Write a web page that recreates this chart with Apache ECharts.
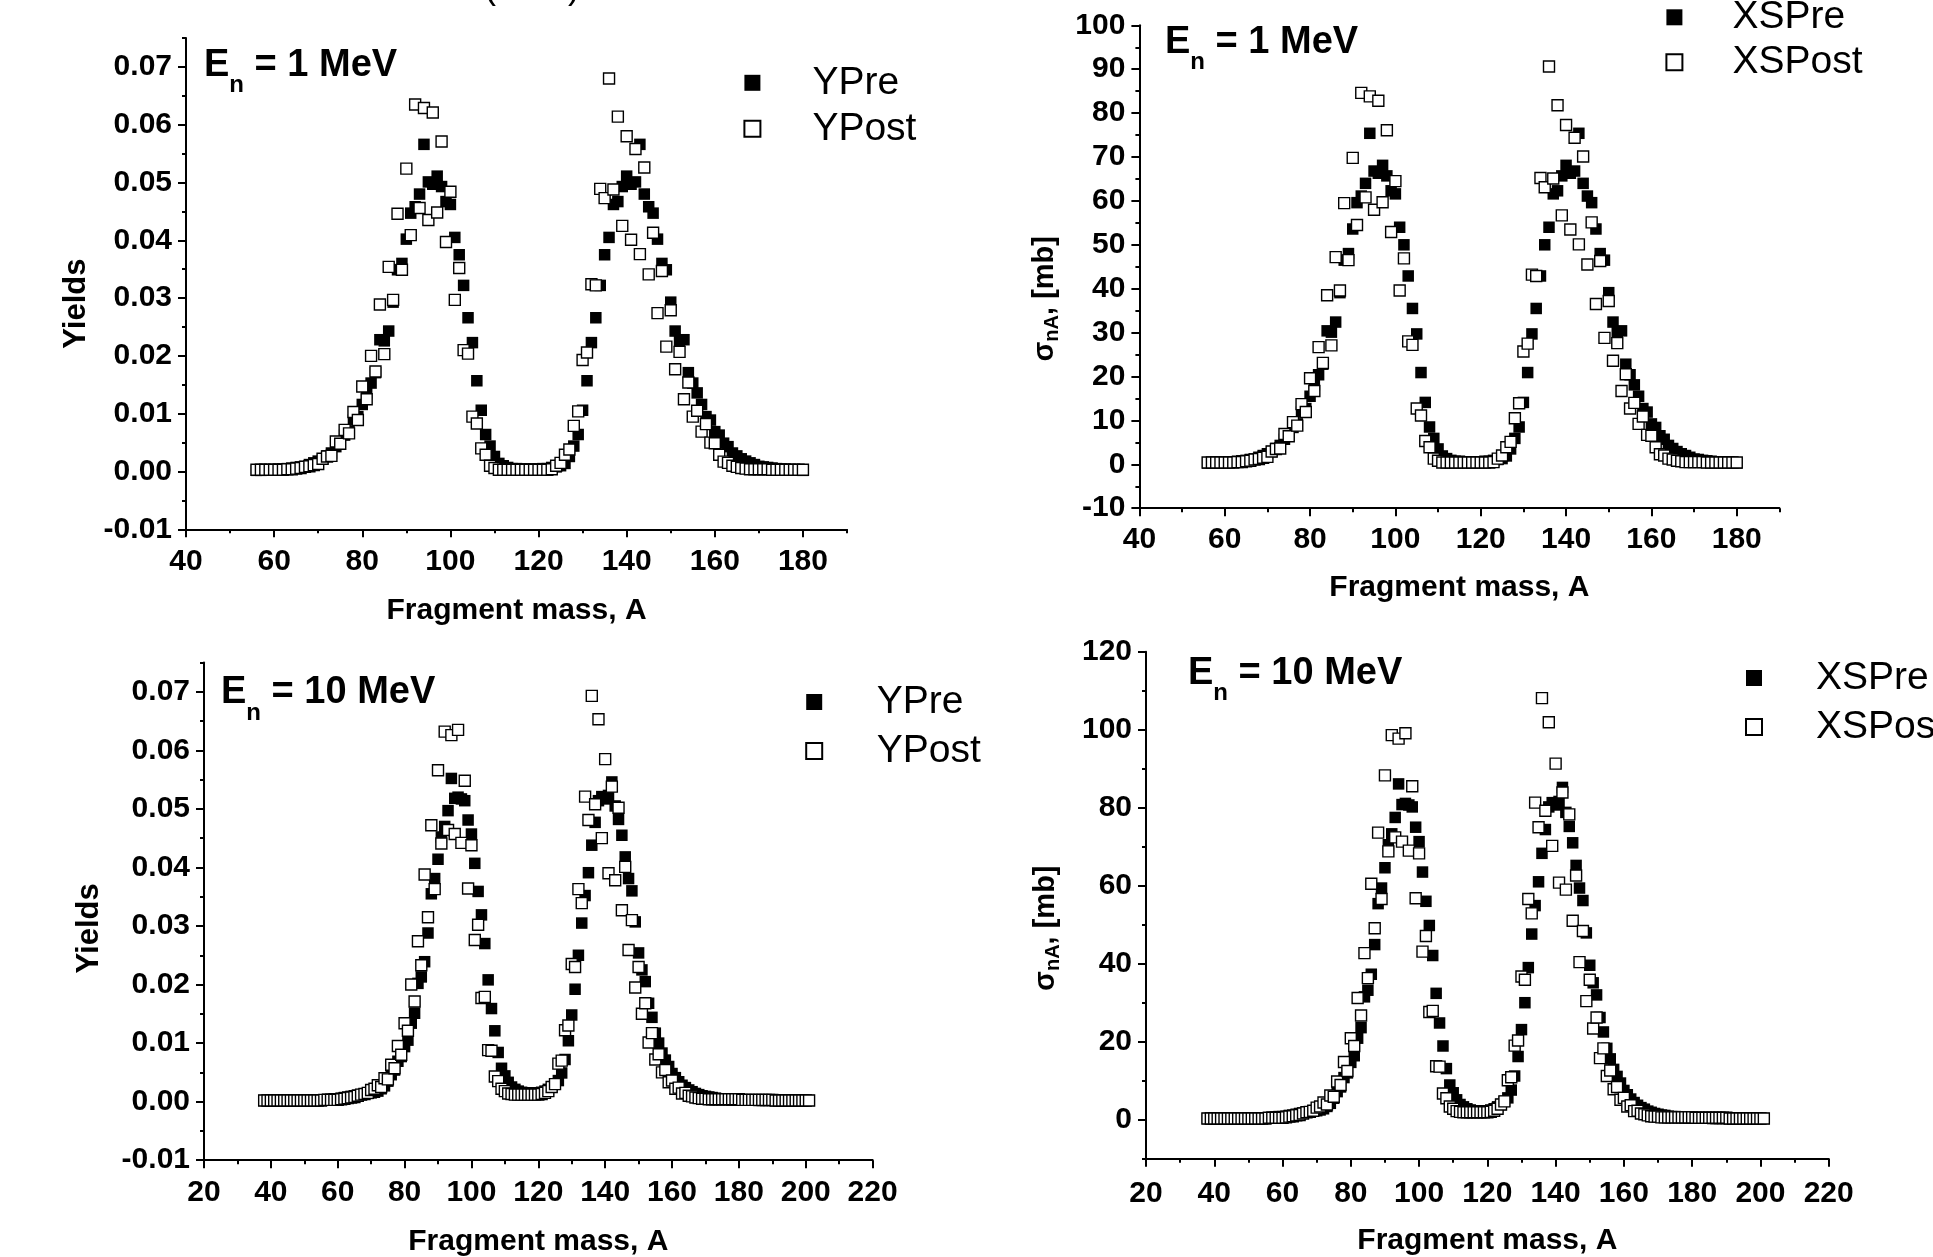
<!DOCTYPE html>
<html><head><meta charset="utf-8">
<script src="https://cdn.jsdelivr.net/npm/echarts@6/dist/echarts.min.js"></script>
<style>html,body{margin:0;padding:0;background:#fff}#c{width:1933px;height:1257px}</style>
</head><body><div id="c"></div>
<script>
// ---------- data ----------
const massStart1MeV = 56;   // A = 56 .. 180
const massStart10MeV = 38;  // A = 38 .. 201

const yPre1 = [
0.0002,0.0002,0.0003,0.0003,0.0003,0.0004,0.0004,0.0005,0.0006,0.0007,
0.0008,0.0009,0.0012,0.0015,0.0018,0.0022,0.0027,0.0032,0.0043,0.0049,
0.0063,0.0069,0.0089,0.0095,0.0116,0.0136,0.0153,0.0171,0.0228,0.0226,
0.0243,0.0293,0.0349,0.0360,0.0402,0.0447,0.0458,0.0480,0.0566,0.0501,
0.0497,0.0511,0.0493,0.0467,0.0462,0.0405,0.0375,0.0322,0.0266,0.0223,
0.0157,0.0106,0.0064,0.0044,0.0026,0.0014,0.0010,0.0007,0.0005,0.0005,
0.0004,0.0004,0.0004,0.0004,0.0004,0.0005,0.0005,0.0007,0.0008,0.0010,
0.0014,0.0026,0.0044,0.0064,0.0106,0.0157,0.0223,0.0266,0.0322,0.0375,
0.0405,0.0462,0.0467,0.0493,0.0511,0.0497,0.0501,0.0566,0.0480,0.0458,
0.0447,0.0402,0.0360,0.0349,0.0293,0.0243,0.0226,0.0228,0.0171,0.0153,
0.0136,0.0116,0.0095,0.0089,0.0069,0.0063,0.0049,0.0043,0.0032,0.0027,
0.0022,0.0018,0.0015,0.0012,0.0009,0.0008,0.0007,0.0006,0.0005,0.0004,
0.0004,0.0003,0.0003,0.0003,0.0002];
const yPost1 = [
0.0003,0.0003,0.0003,0.0003,0.0003,0.0003,0.0003,0.0004,0.0004,0.0005,
0.0006,0.0008,0.0009,0.0011,0.0013,0.0022,0.0026,0.0027,0.0052,0.0048,
0.0072,0.0066,0.0103,0.0089,0.0147,0.0125,0.0200,0.0173,0.0289,0.0203,
0.0354,0.0297,0.0446,0.0349,0.0524,0.0409,0.0635,0.0456,0.0629,0.0435,
0.0621,0.0448,0.0571,0.0397,0.0484,0.0297,0.0352,0.0210,0.0204,0.0095,
0.0083,0.0040,0.0029,0.0010,0.0006,0.0003,0.0003,0.0003,0.0003,0.0003,
0.0003,0.0003,0.0003,0.0003,0.0003,0.0003,0.0003,0.0004,0.0010,0.0015,
0.0029,0.0038,0.0079,0.0104,0.0193,0.0206,0.0324,0.0322,0.0489,0.0473,
0.0680,0.0488,0.0614,0.0425,0.0580,0.0401,0.0558,0.0376,0.0526,0.0341,
0.0413,0.0274,0.0347,0.0216,0.0279,0.0177,0.0207,0.0125,0.0154,0.0095,
0.0105,0.0069,0.0082,0.0050,0.0049,0.0029,0.0017,0.0015,0.0010,0.0008,
0.0006,0.0005,0.0004,0.0004,0.0004,0.0004,0.0004,0.0003,0.0003,0.0003,
0.0003,0.0003,0.0003,0.0003,0.0003];
const xsPre1 = [
0.3,0.3,0.4,0.4,0.4,0.5,0.5,0.7,0.8,0.9,
1.1,1.2,1.6,2.0,2.4,2.9,3.6,4.3,5.7,6.5,
8.4,9.2,11.9,12.7,15.5,18.1,20.4,22.8,30.4,30.1,
32.4,39.1,46.5,48.0,53.6,59.6,61.1,64.0,75.4,66.8,
66.3,68.1,65.7,62.3,61.6,54.0,50.0,42.9,35.5,29.7,
20.9,14.1,8.5,5.9,3.5,1.9,1.3,0.9,0.7,0.7,
0.5,0.5,0.5,0.5,0.5,0.7,0.7,0.9,1.1,1.3,
1.9,3.5,5.9,8.5,14.1,20.9,29.7,35.5,42.9,50.0,
54.0,61.6,62.3,65.7,68.1,66.3,66.8,75.4,64.0,61.1,
59.6,53.6,48.0,46.5,39.1,32.4,30.1,30.4,22.8,20.4,
18.1,15.5,12.7,11.9,9.2,8.4,6.5,5.7,4.3,3.6,
2.9,2.4,2.0,1.6,1.2,1.1,0.9,0.8,0.7,0.5,
0.5,0.4,0.4,0.4,0.3];
const xsPost1 = [
0.4,0.4,0.4,0.4,0.4,0.4,0.4,0.5,0.5,0.7,
0.8,1.1,1.2,1.5,1.7,2.9,3.5,3.6,6.9,6.4,
9.6,8.8,13.7,11.9,19.6,16.7,26.7,23.1,38.5,27.1,
47.2,39.6,59.5,46.5,69.8,54.5,84.6,60.8,83.8,58.0,
82.8,59.7,76.1,52.9,64.5,39.6,46.9,28.0,27.2,12.7,
11.1,5.3,3.9,1.3,0.8,0.4,0.4,0.4,0.4,0.4,
0.4,0.4,0.4,0.4,0.4,0.4,0.4,0.5,1.3,2.0,
3.9,5.1,10.5,13.9,25.7,27.5,43.2,42.9,65.2,63.1,
90.6,65.1,81.8,56.7,77.3,53.5,74.4,50.1,70.1,45.5,
55.1,36.5,46.3,28.8,37.2,23.6,27.6,16.7,20.5,12.7,
14.0,9.2,10.9,6.7,6.5,3.9,2.3,2.0,1.3,1.1,
0.8,0.7,0.5,0.5,0.5,0.5,0.5,0.4,0.4,0.4,
0.4,0.4,0.4,0.4,0.4];

const yPre10 = [
0.0002,0.0002,0.0002,0.0002,0.0002,0.0002,0.0002,0.0002,0.0002,0.0002,
0.0002,0.0002,0.0002,0.0003,0.0003,0.0003,0.0003,0.0003,0.0003,0.0004,
0.0004,0.0005,0.0005,0.0006,0.0007,0.0008,0.0009,0.0010,0.0011,0.0012,
0.0013,0.0014,0.0015,0.0016,0.0018,0.0022,0.0027,0.0035,0.0046,0.0054,
0.0069,0.0077,0.0094,0.0105,0.0134,0.0151,0.0202,0.0213,0.0239,0.0288,
0.0355,0.0381,0.0414,0.0452,0.0470,0.0497,0.0552,0.0518,0.0520,0.0517,
0.0514,0.0481,0.0457,0.0407,0.0359,0.0319,0.0270,0.0208,0.0159,0.0121,
0.0084,0.0057,0.0044,0.0033,0.0025,0.0021,0.0018,0.0016,0.0015,0.0015,
0.0015,0.0015,0.0015,0.0016,0.0018,0.0021,0.0025,0.0030,0.0036,0.0049,
0.0072,0.0104,0.0148,0.0192,0.0250,0.0305,0.0352,0.0391,0.0438,0.0477,
0.0514,0.0521,0.0517,0.0523,0.0546,0.0505,0.0482,0.0455,0.0418,0.0381,
0.0360,0.0307,0.0254,0.0225,0.0205,0.0168,0.0144,0.0117,0.0100,0.0083,
0.0071,0.0060,0.0048,0.0041,0.0034,0.0028,0.0024,0.0020,0.0017,0.0014,
0.0012,0.0010,0.0009,0.0008,0.0007,0.0006,0.0005,0.0005,0.0004,0.0004,
0.0003,0.0003,0.0003,0.0003,0.0003,0.0003,0.0003,0.0003,0.0002,0.0002,
0.0002,0.0002,0.0002,0.0002,0.0002,0.0002,0.0002,0.0002,0.0002,0.0002,
0.0002,0.0002,0.0002,0.0002];
const yPost10 = [
0.0002,0.0002,0.0002,0.0002,0.0002,0.0002,0.0002,0.0002,0.0002,0.0002,
0.0002,0.0002,0.0002,0.0002,0.0002,0.0002,0.0002,0.0002,0.0003,0.0003,
0.0003,0.0003,0.0003,0.0004,0.0005,0.0006,0.0007,0.0008,0.0010,0.0012,
0.0013,0.0015,0.0020,0.0022,0.0028,0.0025,0.0040,0.0038,0.0063,0.0057,
0.0095,0.0080,0.0134,0.0121,0.0200,0.0171,0.0274,0.0233,0.0388,0.0315,
0.0472,0.0363,0.0566,0.0441,0.0632,0.0464,0.0626,0.0457,0.0635,0.0442,
0.0548,0.0364,0.0438,0.0276,0.0302,0.0177,0.0179,0.0088,0.0087,0.0043,
0.0035,0.0022,0.0018,0.0014,0.0013,0.0012,0.0012,0.0012,0.0012,0.0012,
0.0012,0.0012,0.0012,0.0013,0.0015,0.0018,0.0025,0.0030,0.0065,0.0070,
0.0122,0.0130,0.0235,0.0230,0.0363,0.0339,0.0521,0.0481,0.0693,0.0508,
0.0653,0.0450,0.0585,0.0390,0.0538,0.0378,0.0502,0.0327,0.0401,0.0259,
0.0310,0.0195,0.0230,0.0150,0.0168,0.0101,0.0117,0.0072,0.0081,0.0050,
0.0054,0.0033,0.0036,0.0022,0.0024,0.0014,0.0015,0.0010,0.0009,0.0007,
0.0006,0.0005,0.0005,0.0004,0.0004,0.0004,0.0004,0.0004,0.0004,0.0004,
0.0004,0.0004,0.0004,0.0003,0.0003,0.0003,0.0003,0.0003,0.0003,0.0003,
0.0003,0.0003,0.0003,0.0002,0.0002,0.0002,0.0002,0.0002,0.0002,0.0002,
0.0002,0.0002,0.0002,0.0002];
const xsPre10 = [
0.3,0.3,0.3,0.3,0.3,0.3,0.3,0.3,0.3,0.3,
0.3,0.3,0.3,0.5,0.5,0.5,0.5,0.5,0.5,0.6,
0.6,0.8,0.8,0.9,1.1,1.2,1.4,1.6,1.7,1.9,
2.0,2.2,2.3,2.5,2.8,3.4,4.2,5.5,7.2,8.4,
10.8,12.0,14.7,16.4,20.9,23.6,31.5,33.2,37.3,44.9,
55.4,59.4,64.6,70.5,73.3,77.5,86.1,80.8,81.1,80.7,
80.2,75.0,71.3,63.5,56.0,49.8,42.1,32.4,24.8,18.9,
13.1,8.9,6.9,5.1,3.9,3.3,2.8,2.5,2.3,2.3,
2.3,2.3,2.3,2.5,2.8,3.3,3.9,4.7,5.6,7.6,
11.2,16.2,23.1,30.0,39.0,47.6,54.9,61.0,68.3,74.4,
80.2,81.3,80.7,81.6,85.2,78.8,75.2,71.0,65.2,59.4,
56.2,47.9,39.6,35.1,32.0,26.2,22.5,18.3,15.6,12.9,
11.1,9.4,7.5,6.4,5.3,4.4,3.7,3.1,2.7,2.2,
1.9,1.6,1.4,1.2,1.1,0.9,0.8,0.8,0.6,0.6,
0.5,0.5,0.5,0.5,0.5,0.5,0.5,0.5,0.3,0.3,
0.3,0.3,0.3,0.3,0.3,0.3,0.3,0.3,0.3,0.3,
0.3,0.3,0.3,0.3];
const xsPost10 = [
0.3,0.3,0.3,0.3,0.3,0.3,0.3,0.3,0.3,0.3,
0.3,0.3,0.3,0.3,0.3,0.3,0.3,0.3,0.5,0.5,
0.5,0.5,0.5,0.6,0.8,0.9,1.1,1.2,1.6,1.9,
2.0,2.3,3.1,3.4,4.4,3.9,6.2,5.9,9.8,8.9,
14.8,12.5,20.9,18.9,31.2,26.7,42.7,36.3,60.5,49.1,
73.6,56.6,88.3,68.8,98.6,72.4,97.7,71.3,99.1,69.0,
85.5,56.8,68.3,43.1,47.1,27.6,27.9,13.7,13.6,6.7,
5.5,3.4,2.8,2.2,2.0,1.9,1.9,1.9,1.9,1.9,
1.9,1.9,1.9,2.0,2.3,2.8,3.9,4.7,10.1,10.9,
19.0,20.3,36.7,35.9,56.6,52.9,81.3,75.0,108.1,79.2,
101.9,70.2,91.3,60.8,83.9,59.0,78.3,51.0,62.6,40.4,
48.4,30.4,35.9,23.4,26.2,15.8,18.3,11.2,12.6,7.8,
8.4,5.1,5.6,3.4,3.7,2.2,2.3,1.6,1.4,1.1,
0.9,0.8,0.8,0.6,0.6,0.6,0.6,0.6,0.6,0.6,
0.6,0.6,0.6,0.5,0.5,0.5,0.5,0.5,0.5,0.5,
0.5,0.5,0.5,0.3,0.3,0.3,0.3,0.3,0.3,0.3,
0.3,0.3,0.3,0.3];

// tick values
const xTicks1MeV = [40,60,80,100,120,140,160,180];
const xMinor1MeV = [50,70,90,110,130,150,170,190];
const xTicks10MeV = [20,40,60,80,100,120,140,160,180,200,220];
const xMinor10MeV = [30,50,70,90,110,130,150,170,190,210];
const yTicksYield = [-0.01,0,0.01,0.02,0.03,0.04,0.05,0.06,0.07];
const yMinorYield = [-0.005,0.005,0.015,0.025,0.035,0.045,0.055,0.065,0.075];
const yTicksXS1 = [-10,0,10,20,30,40,50,60,70,80,90,100];
const yMinorXS1 = [-5,5,15,25,35,45,55,65,75,85,95];
const yTicksXS10 = [0,20,40,60,80,100,120];
const yMinorXS10 = [-10,10,30,50,70,90,110];

// ---------- chart ----------
const FONT = '"Liberation Sans", Arial, Helvetica, sans-serif';
const BLACK = '#000';
function pts(start, arr) { return arr.map((v, i) => [start + i, v]); }

const panels = [
  { grid: {left:186, top:38, width:661, height:491.3},
    x: {min:40, max:190, major:xTicks1MeV, minor:xMinor1MeV, nameGap:66, margin:17},
    y: {min:-0.01, max:0.075, major:yTicksYield, minor:yMinorYield, fmt:v=>v.toFixed(2),
        name:'Yields', nameGap:94, shift:20, rich:false},
    title: {left:204, top:45.5, energy:'1 MeV'},
    legend: {left:743.4, top:62.8, gap:6, pad:47, names:['YPre','YPost']},
    start: massStart1MeV, pre: yPre1, post: yPost1 },
  { grid: {left:1139.4, top:25.3, width:640, height:482.9},
    x: {min:40, max:190, major:xTicks1MeV, minor:xMinor1MeV, nameGap:65, margin:17},
    y: {min:-10, max:100, major:yTicksXS1, minor:yMinorXS1, fmt:v=>String(v),
        name:'sigma', nameGap:78, shift:32, rich:true},
    title: {left:1165, top:22.8, energy:'1 MeV'},
    legend: {left:1665.4, top:-2.7, gap:5, pad:45, names:['XSPre','XSPost']},
    start: massStart1MeV, pre: xsPre1, post: xsPost1 },
  { grid: {left:204, top:662.5, width:668.6, height:497.7},
    x: {min:20, max:220, major:xTicks10MeV, minor:xMinor10MeV, nameGap:67, margin:18},
    y: {min:-0.01, max:0.075, major:yTicksYield, minor:yMinorYield, fmt:v=>v.toFixed(2),
        name:'Yields', nameGap:99, shift:17, rich:false},
    title: {left:221, top:673, energy:'10 MeV'},
    legend: {left:805.2, top:682, gap:9, pad:49.5, names:['YPre','YPost']},
    start: massStart10MeV, pre: yPre10, post: yPost10 },
  { grid: {left:1146, top:651.7, width:682.7, height:507},
    x: {min:20, max:220, major:xTicks10MeV, minor:xMinor10MeV, nameGap:67, margin:20},
    y: {min:-10, max:120, major:yTicksXS10, minor:yMinorXS10, fmt:v=>String(v),
        name:'sigma', nameGap:84, shift:23, rich:true},
    title: {left:1188, top:653.8, energy:'10 MeV'},
    legend: {left:1745, top:658, gap:9, pad:49, names:['XSPre','XSPost']},
    start: massStart10MeV, pre: xsPre10, post: xsPost10 }
];

const labelFont = {color:BLACK, fontSize:30, fontWeight:'bold', fontFamily:FONT};
const grids = [], xAxes = [], yAxes = [], series = [], titles = [], legends = [];

panels.forEach((p, i) => {
  grids.push(Object.assign({containLabel:false, outerBoundsMode:'none'}, p.grid));
  xAxes.push({ type:'value', gridIndex:i, min:p.x.min, max:p.x.max, position:'bottom',
    axisLine:{show:true, onZero:false, lineStyle:{color:BLACK, width:2}},
    axisTick:{show:true, customValues:p.x.major, length:8, lineStyle:{color:BLACK, width:2}},
    axisLabel:Object.assign({show:true, customValues:p.x.major, margin:p.x.margin, formatter:v=>String(v)}, labelFont),
    splitLine:{show:false},
    name:'Fragment mass, A', nameLocation:'middle', nameGap:p.x.nameGap,
    nameTextStyle:{color:BLACK, fontSize:30, fontWeight:'bold', fontFamily:FONT} });
  xAxes.push({ type:'value', gridIndex:i, min:p.x.min, max:p.x.max, position:'bottom',
    axisLine:{show:false, onZero:false},
    axisTick:{show:true, customValues:p.x.minor, length:4, lineStyle:{color:BLACK, width:2}},
    axisLabel:{show:false}, splitLine:{show:false} });
  const yName = p.y.rich ? '{a|σ}{b|nA}{a|, [mb]}' : p.y.name;
  const nameStyle = {color:BLACK, fontSize:31, fontWeight:'bold', fontFamily:FONT,
    padding:[0, 2 * p.y.shift, 0, 0]};
  if (p.y.rich) {
    nameStyle.rich = {
      a:{fontSize:29, fontWeight:'bold', fontFamily:FONT, color:BLACK, lineHeight:32},
      b:{fontSize:20, fontWeight:'bold', fontFamily:FONT, color:BLACK, lineHeight:20, padding:[14,0,0,0]}
    };
  }
  yAxes.push({ type:'value', gridIndex:i, min:p.y.min, max:p.y.max, position:'left',
    axisLine:{show:true, onZero:false, lineStyle:{color:BLACK, width:2}},
    axisTick:{show:true, customValues:p.y.major, length:8, lineStyle:{color:BLACK, width:2}},
    axisLabel:Object.assign({show:true, customValues:p.y.major, margin:14, formatter:p.y.fmt}, labelFont),
    splitLine:{show:false},
    name:yName, nameLocation:'middle', nameGap:p.y.nameGap, nameRotate:90,
    nameTextStyle:nameStyle });
  yAxes.push({ type:'value', gridIndex:i, min:p.y.min, max:p.y.max, position:'left',
    axisLine:{show:false, onZero:false},
    axisTick:{show:true, customValues:p.y.minor, length:4, lineStyle:{color:BLACK, width:2}},
    axisLabel:{show:false}, splitLine:{show:false} });

  series.push({ type:'scatter', name:p.legend.names[0], xAxisIndex:2*i, yAxisIndex:2*i,
    data:pts(p.start, p.pre), symbol:'rect', symbolSize:11.5, silent:true, z:2,
    itemStyle:{color:BLACK, opacity:1} });
  series.push({ type:'scatter', name:p.legend.names[1], xAxisIndex:2*i, yAxisIndex:2*i,
    data:pts(p.start, p.post), symbol:'rect', symbolSize:11, silent:true, z:3,
    itemStyle:{color:'#fff', borderColor:BLACK, borderWidth:1.4, opacity:1} });

  titles.push({ text:'{e|E}{s|n}{e| = ' + p.title.energy + '}', left:p.title.left, top:p.title.top, padding:0,
    textStyle:{ rich:{
      e:{fontSize:38, fontWeight:'bold', fontFamily:FONT, color:BLACK, lineHeight:40},
      s:{fontSize:24, fontWeight:'bold', fontFamily:FONT, color:BLACK, lineHeight:24, padding:[40,0,0,0]} } } });

  legends.push({ data:p.legend.names, orient:'vertical', left:p.legend.left, top:p.legend.top,
    padding:0, itemWidth:16, itemHeight:16, itemGap:p.legend.gap, selectedMode:false, icon:'rect',
    textStyle:{fontSize:39, fontFamily:FONT, color:BLACK, lineHeight:40, padding:[0,0,0,p.legend.pad]} });
});

const chart = echarts.init(document.getElementById('c'), null, {renderer:'canvas'});
chart.setOption({
  animation:false, backgroundColor:'#fff',
  title:titles, legend:legends, grid:grids, xAxis:xAxes, yAxis:yAxes, series:series,
  graphic:[
    {type:'text', left:484, top:-30, silent:true,
     style:{text:'(', font:'36px "Liberation Sans", Arial, sans-serif', fill:BLACK}},
    {type:'text', left:568, top:-30, silent:true,
     style:{text:')', font:'36px "Liberation Sans", Arial, sans-serif', fill:BLACK}}
  ]
});
</script></body></html>
